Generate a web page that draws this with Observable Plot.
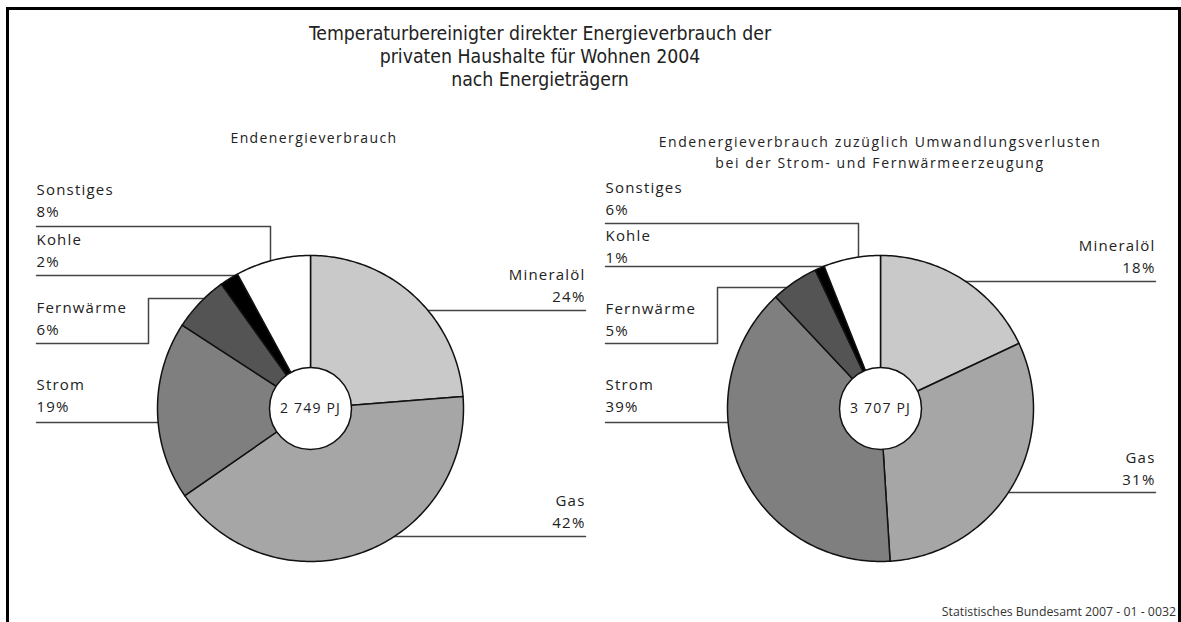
<!DOCTYPE html>
<html><head><meta charset="utf-8">
<script src="https://cdn.jsdelivr.net/npm/d3@7"></script>
<script src="https://cdn.jsdelivr.net/npm/@observablehq/plot@0.6"></script>
<style>
html,body{margin:0;padding:0;background:#fff;}
#page{position:relative;width:1181px;height:622px;overflow:hidden;font-family:"Open Sans",sans-serif;color:#222;}
#frame{position:absolute;left:6px;top:7px;width:1175px;height:640px;box-sizing:border-box;border-left:3px solid #000;border-top:3px solid #000;border-right:3px solid #000;}
#title{position:absolute;left:240px;width:600px;top:22px;text-align:center;font-family:"Liberation Sans Narrow","Arial Narrow","DejaVu Sans Condensed",sans-serif;font-size:19.3px;line-height:23px;color:#222;}
.sub{position:absolute;text-align:center;font-size:14px;line-height:21px;color:#222;}
#footer{position:absolute;top:603px;right:5px;font-size:12.3px;white-space:nowrap;color:#333;}
.chart{position:absolute;top:160px;width:590px;height:460px;}
</style>
</head><body>
<div id="page">
  <div id="frame"></div>
  <div id="title">Temperaturbereinigter direkter Energieverbrauch der<br>privaten Haushalte für Wohnen 2004<br>nach Energieträgern</div>
  <div class="sub" style="left:114px;width:400px;top:127px;letter-spacing:1.4px;">Endenergieverbrauch</div>
  <div class="sub" style="left:580px;width:600px;top:131px;letter-spacing:1.6px;">Endenergieverbrauch zuzüglich Umwandlungsverlusten<br>bei der Strom- und Fernwärmeerzeugung</div>
  <div class="chart" id="c1" style="left:0px;"></div>
  <div class="chart" id="c2" style="left:590px;"></div>
  <div id="footer">Statistisches Bundesamt 2007 - 01 - 0032</div>
</div>
<script>
// ---- data ----
const categories = ["Mineralöl", "Gas", "Strom", "Fernwärme", "Kohle", "Sonstiges"];
const sharesEndenergie = [24, 42, 19, 6, 2, 8];
const sharesMitVerlusten = [18, 31, 39, 5, 1, 6];
const totalLabels = ["2 749 PJ", "3 707 PJ"];

// ---- styles / layout ----
const sliceColors = ["#c9c9c9", "#a6a6a6", "#7f7f7f", "#545454", "#000000", "#ffffff"];
const R = 153, HOLE = 41;
// label layout relative to pie centre (pixels); null = point on the pie rim
const layoutLeft = {
  "Mineralöl": {side: 1, ty: -133, path: [[null, -98], [275, -98]]},
  "Gas":       {side: 1, ty: 93,   path: [[null, 128], [275, 128]]},
  "Strom":     {side: -1, ty: -23, path: [[-274, 14], [null, 14]]},
  "Fernwärme": {side: -1, ty: -100, path: [[-274, -65], [-162, -65], [-162, -110], [null, -110]]},
  "Kohle":     {side: -1, ty: -168, path: [[-274, -133], [null, -133]]},
  "Sonstiges": {side: -1, ty: -218, path: [[-274, -182], [-40, -182], [-40, null]]}
};
const layoutRight = {
  "Mineralöl": {side: 1, ty: -162, path: [[null, -127], [275, -127]]},
  "Gas":       {side: 1, ty: 50,   path: [[null, 84], [275, 84]]},
  "Strom":     {side: -1, ty: -23, path: [[-275, 14], [null, 14]]},
  "Fernwärme": {side: -1, ty: -99, path: [[-275, -65], [-163, -65], [-163, -121], [null, -121]]},
  "Kohle":     {side: -1, ty: -172, path: [[-275, -142], [null, -142]]},
  "Sonstiges": {side: -1, ty: -220, path: [[-275, -185], [-22, -185], [-22, null]]}
};

function slicePolygons(values) {
  const arcs = d3.pie().sort(null).value(d => d)(values);
  const rows = [];
  arcs.forEach((a, i) => {
    const n = Math.max(2, Math.ceil((a.endAngle - a.startAngle) / (Math.PI / 180)));
    rows.push({category: categories[i], x: 0, y: 0});
    for (let k = 0; k <= n; k++) {
      const t = a.startAngle + (a.endAngle - a.startAngle) * k / n;
      rows.push({category: categories[i], x: R * Math.sin(t), y: -R * Math.cos(t)});
    }
  });
  return rows;
}

function resolvePoint([x, y], side) {
  if (x == null) x = side * Math.sqrt(R * R - y * y);
  if (y == null) y = -Math.sqrt(R * R - x * x);
  return {x, y};
}

function pieChart(values, total, layout, cx, cy) {
  const W = 590, H = 460;
  const poly = slicePolygons(values);
  const leaders = [], labels = [];
  categories.forEach((c, i) => {
    const L = layout[c];
    L.path.forEach(p => leaders.push({category: c, ...resolvePoint(p, L.side)}));
    const lx = L.side < 0 ? L.path[0][0] : L.path[L.path.length - 1][0];
    labels.push({side: L.side, x: lx, y: L.ty, text: c});
    labels.push({side: L.side, x: lx, y: L.ty + 22, text: values[i] + "%"});
  });
  return Plot.plot({
    width: W, height: H, margin: 0,
    x: {domain: [-cx, W - cx], range: [0, W], axis: null},
    y: {domain: [-cy, H - cy], range: [0, H], axis: null},
    color: {domain: categories, range: sliceColors},
    style: {fontFamily: "Open Sans", letterSpacing: "1.2px", color: "#222", background: "transparent", overflow: "visible"},
    marks: [
      Plot.line(leaders, {x: "x", y: "y", z: "category", stroke: "#444", strokeWidth: 1.5}),
      Plot.line(poly, {x: "x", y: "y", z: "category", fill: "category", stroke: "#111", strokeWidth: 1.5, curve: "linear-closed"}),
      Plot.dot([{x: 0, y: 0}], {x: "x", y: "y", r: HOLE, fill: "white", stroke: "#111", strokeWidth: 1.5}),
      Plot.text([{x: 0, y: 0, t: total}], {x: "x", y: "y", text: "t", fontSize: 14, fill: "#222"}),
      Plot.text(labels.filter(d => d.side < 0), {x: "x", y: "y", text: "text", textAnchor: "start", fontSize: 15, fill: "#222"}),
      Plot.text(labels.filter(d => d.side > 0), {x: "x", y: "y", text: "text", textAnchor: "end", fontSize: 15, fill: "#222"})
    ]
  });
}

document.getElementById("c1").append(pieChart(sharesEndenergie, totalLabels[0], layoutLeft, 310, 248));
document.getElementById("c2").append(pieChart(sharesMitVerlusten, totalLabels[1], layoutRight, 290, 248));
</script>
</body></html>
